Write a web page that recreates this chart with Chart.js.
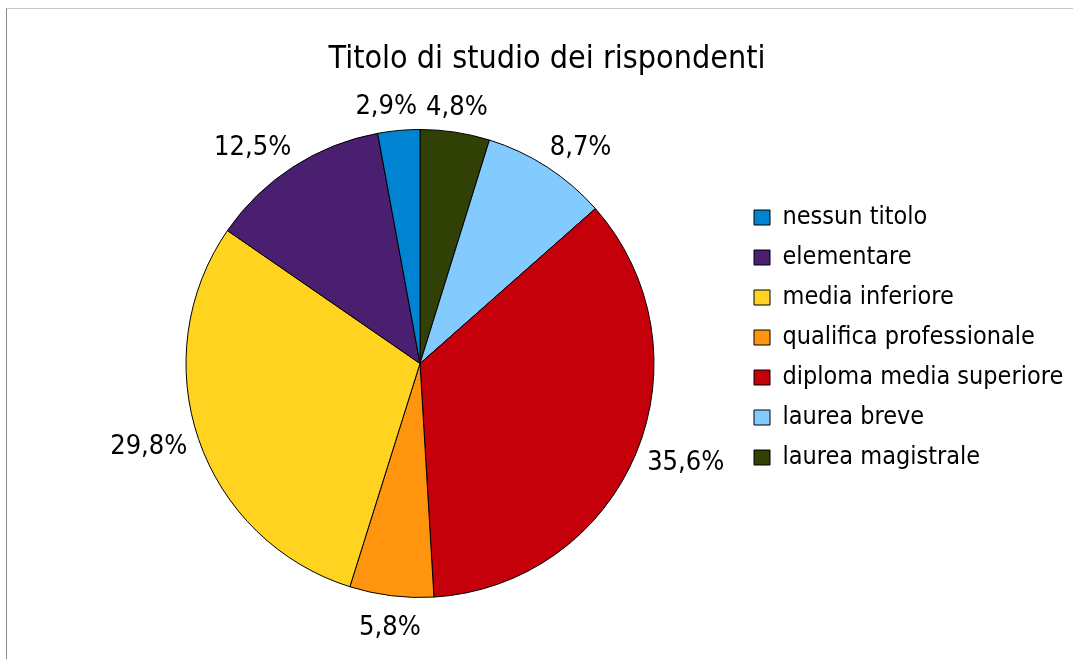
<!DOCTYPE html>
<html>
<head>
<meta charset="utf-8">
<title>Titolo di studio dei rispondenti</title>
<script src="https://cdn.jsdelivr.net/npm/chart.js@4.4.1/dist/chart.umd.min.js"></script>
<style>
  html, body { margin: 0; padding: 0; background: #fff; overflow: hidden; }
  #frame {
    position: absolute; left: 6px; top: 8px;
    width: 1067px; height: 651px;
    overflow: hidden;
    border-top: 1px solid #c8c8c8;
    border-left: 1px solid #8c8c8c;
  }
  #chart { display: block; }
</style>
</head>
<body>
<div id="frame">
  <canvas id="chart" width="1100" height="650"></canvas>
</div>
<script>
// slices go clockwise from 12 o'clock, legend lists them the other way round
var categories = ["laurea magistrale", "laurea breve", "diploma media superiore",
  "qualifica professionale", "media inferiore", "elementare", "nessun titolo"];
var shares = [4.8, 8.7, 35.6, 5.8, 29.8, 12.5, 2.9];
var sliceColors = ["#314004", "#83caff", "#c5000b", "#ff950e", "#ffd320", "#4b1f6f", "#0084d1"];
var chartTitle = "Titolo di studio dei rispondenti";

var fontFamily = '"DejaVu Sans Condensed", "DejaVu Sans", sans-serif';
var legendFontSize = 25;
var legendBox = 16;
var legendPad = 15;
var legendLeft = 732;   // legend starts here, the pie sits left of it

function pct(v) {
  return v.toFixed(1).replace(".", ",") + "%";
}

function clamp01(v) {
  return Math.max(0, Math.min(1, v));
}

// right padding so the legend box starts at legendLeft
var canvas = document.getElementById("chart");
var mctx = canvas.getContext("2d");
mctx.font = legendFontSize + "px " + fontFamily;
var widest = Math.max.apply(null, categories.map(function (c) { return mctx.measureText(c).width; }));
var legendWidth = legendPad + legendBox + legendFontSize / 2 + widest + 10;
var padRight = canvas.width - legendLeft - legendWidth;

// title centred over the whole frame, not over the pie
var frameTitle = {
  id: "frameTitle",
  afterDraw: function (chart) {
    var ctx = chart.ctx;
    ctx.save();
    ctx.font = "32px " + fontFamily;
    ctx.fillStyle = "#000";
    ctx.textAlign = "center";
    ctx.textBaseline = "middle";
    ctx.fillText(chartTitle, 540, 51);
    ctx.restore();
  }
};

// percent labels just outside the rim
var outsideLabels = {
  id: "outsideLabels",
  afterDatasetsDraw: function (chart) {
    var ctx = chart.ctx;
    var meta = chart.getDatasetMeta(0);
    var placed = [];
    ctx.save();
    ctx.font = "27px " + fontFamily;
    ctx.fillStyle = "#000";
    ctx.textAlign = "center";
    ctx.textBaseline = "middle";
    meta.data.forEach(function (arc, i) {
      var p = arc.getProps(["x", "y", "startAngle", "endAngle", "outerRadius"], true);
      var mid = (p.startAngle + p.endAngle) / 2;
      var c = Math.cos(mid), s = Math.sin(mid);
      var txt = pct(shares[i]);
      var w = ctx.measureText(txt).width;
      var ax = p.x + (p.outerRadius + 12) * c;
      var ay = p.y + (p.outerRadius + 12) * s;
      var fx = Math.sign(c) * clamp01((Math.abs(c) - 0.15) / 0.45);
      var fy = Math.sign(s) * clamp01((Math.abs(s) - 0.35) / 0.6);
      var cx = ax + fx * w / 2;
      var cy = ay + fy * 16 + 4;
      placed.forEach(function (b) {
        var overlap = cx - w / 2 < b.r && cx + w / 2 > b.l && cy - 14 < b.b && cy + 14 > b.t;
        if (overlap) {
          if (cx < (b.l + b.r) / 2) cx = b.l - 9 - w / 2;
          else cx = b.r + 9 + w / 2;
        }
      });
      placed.push({ l: cx - w / 2, r: cx + w / 2, t: cy - 14, b: cy + 14 });
      ctx.fillText(txt, cx, cy);
    });
    ctx.restore();
  }
};

Chart.defaults.color = "#000";
Chart.defaults.font.family = fontFamily;

var myChart = new Chart(canvas, {
  type: "pie",
  data: {
    labels: categories,
    datasets: [
      {
        data: shares,
        backgroundColor: sliceColors,
        borderColor: "#000",
        borderWidth: 1,
        hoverOffset: 0
      }
    ]
  },
  options: {
    responsive: false,
    animation: false,
    events: [],
    layout: { padding: { left: 94, right: padRight, top: 120, bottom: 61 } },
    plugins: {
      title: { display: false },
      legend: {
        display: true,
        position: "right",
        align: "start",
        fullSize: false,
        reverse: true,
        // empty title only pushes the entries down
        title: { display: true, text: "", font: { size: 10 }, padding: { top: 49, bottom: 0 } },
        labels: {
          boxWidth: legendBox,
          boxHeight: 15,
          padding: legendPad,
          color: "#000",
          font: { size: legendFontSize, family: fontFamily }
        }
      },
      tooltip: { enabled: false }
    }
  },
  plugins: [outsideLabels, frameTitle]
});
</script>
</body>
</html>
